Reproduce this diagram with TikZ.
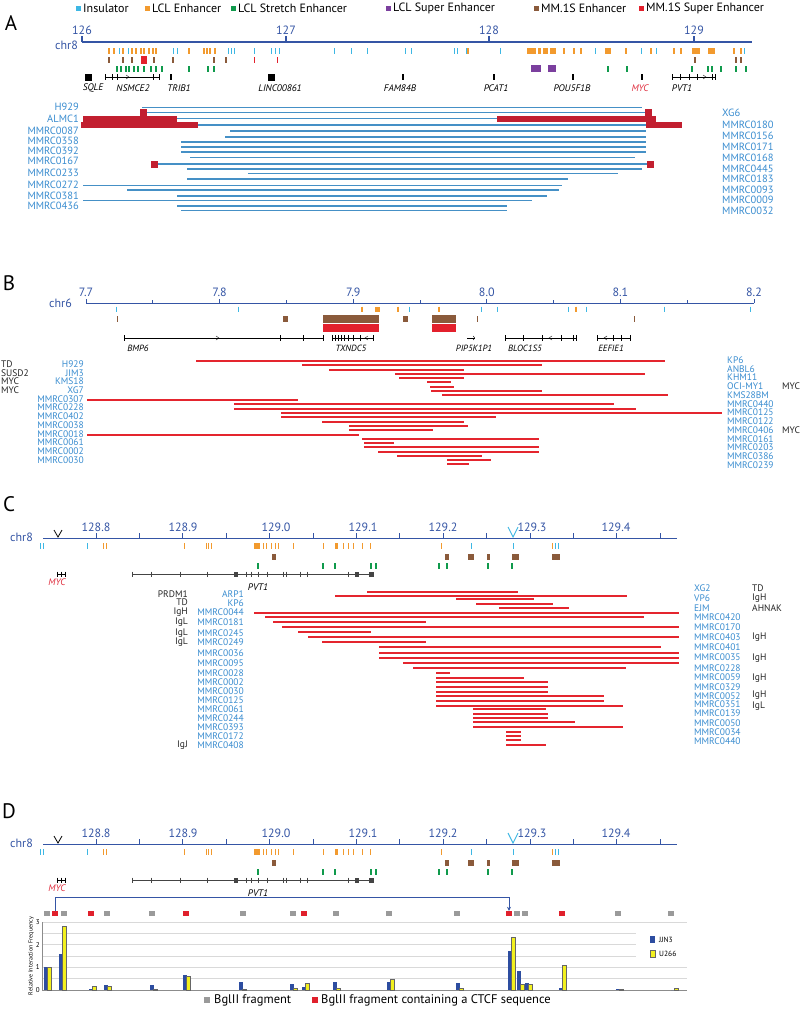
\documentclass[tikz,border=0pt]{standalone}
\usepackage{fontspec}
\setmainfont{PT Sans}
\usetikzlibrary{calc, arrows.meta}

\definecolor{axisblue}{HTML}{3555A5}
\definecolor{samplblue}{HTML}{3A8DD0}
\definecolor{lineblue}{HTML}{4590C6}
\definecolor{darkred}{HTML}{C21F30}
\definecolor{brightred}{HTML}{E4252E}
\definecolor{insul}{HTML}{3DB7E4}
\definecolor{lclenh}{HTML}{F29A2E}
\definecolor{stretch}{HTML}{109A4C}
\definecolor{superenh}{HTML}{7B3F9E}
\definecolor{mmenh}{HTML}{8A5A3B}
\definecolor{mmsuper}{HTML}{E3202C}
\definecolor{mycred}{HTML}{E03040}
\definecolor{barblue}{HTML}{2D4DA0}
\definecolor{baryellow}{HTML}{F2F01E}
\definecolor{fraggray}{HTML}{9A9A9A}
\definecolor{fragred}{HTML}{E0202C}
\definecolor{gridgray}{HTML}{D9D9D9}
\definecolor{pvtgray}{HTML}{444444}

\begin{document}
\begin{tikzpicture}[x=1pt, y=-1pt,
  samp/.style={font=\fontsize{10.5}{10.5}\selectfont, text=samplblue, inner sep=0pt},
  sampsmall/.style={samp, font=\fontsize{9.5}{9.5}\selectfont},
  note/.style={font=\fontsize{10}{10}\selectfont, text=black!85, inner sep=0pt},
  notesmall/.style={note, font=\fontsize{9.5}{9.5}\selectfont},
  ticklab/.style={font=\fontsize{12}{12}\selectfont, text=axisblue, inner sep=0pt},
  gene/.style={font=\fontsize{9.5}{9.5}\selectfont\itshape, inner sep=0pt},
  panel/.style={font=\fontsize{21}{21}\selectfont, inner sep=0pt},
  legtext/.style={font=\fontsize{12}{12}\selectfont, inner sep=0pt, anchor=west},
  axnum/.style={font=\fontsize{7}{7}\selectfont, inner sep=0pt},
  frag/.style={minimum width=6pt, minimum height=5pt, inner sep=0pt, draw=none}
]
\useasboundingbox (0,0) rectangle (800,1009);
\fill[white] (0,0) rectangle (800,1009);

% Legend of the tracks
\foreach \c/\x/\t [count=\i] in {insul/78/Insulator, lclenh/147/LCL Enhancer, stretch/233/LCL Stretch Enhancer, superenh/388/LCL Super Enhancer, mmenh/536/MM.1S Enhancer, mmsuper/641/MM.1S Super Enhancer}{
  \fill[\c] (\x-2.5,6) rectangle (\x+2.5,11);
  \node[legtext] (leg\i) at (\x+5,8.5) {\t};
}

% ---------------- Panel A ----------------
\node[panel] (pA) at (11,23) {A};
\draw[axisblue, line width=1.1pt] (82,42) -- (752,42);
\foreach \x/\l in {82/126, 286/127, 489/128, 694/129}{
  \draw[axisblue, line width=1.1pt] (\x,42) -- (\x,36);
  \node[ticklab] at (\x,30) {\l};
}
\node[ticklab, anchor=east] (chrA) at (78,45) {chr8};

% enhancer and insulator tracks
\foreach \x in {109,114,123,132,136,141,144,149,153,156,189,204,207,210,215,468,564,574,581,626,651,674,681,734,741}
  \draw[lclenh, line width=1.3pt] (\x,48) -- (\x,54);
\foreach \a/\b in {527/536, 538/541, 543/548, 550/556, 605/611, 692/700, 708/715}
  \fill[lclenh] (\a,48) rectangle (\b,54);
\foreach \x in {119,128,173,177,228,231,234,254,271,275,279,334,351,367,405,411,454,457,466,500,595,641,656,744}
  \draw[insul, line width=1pt] (\x,48) -- (\x,54);
\foreach \x in {109,123,132,154,173,214,226,695,736,741}
  \draw[mmenh, line width=1.2pt] (\x,57) -- (\x,63);
\fill[mmsuper] (141,56) rectangle (147,64);
\foreach \x in {254,277}
  \draw[mmsuper, line width=1pt] (\x,57) -- (\x,63);
\foreach \x in {117,121,126,129,134,138,144,151,156,162,189,208,214,608,627,692,708,712,721,736,746}
  \draw[stretch, line width=1.4pt] (\x,66) -- (\x,72);
\fill[superenh] (531,65) rectangle (541,72);
\fill[superenh] (548,65) rectangle (556,72);

% genes
\fill (85,74) rectangle (92,81);
\draw[thick] (105,77) -- (159,77);
\foreach \x in {105,112,117,153,159} \draw[thick] (\x,74) -- (\x,80);
\draw (126,75) -- (129,77) -- (126,79);
\fill (170.3,74) rectangle (171.8,80);
\fill (268,73.5) rectangle (275,81);
\foreach \x in {403,494,573,642} \fill (\x-0.8,74) rectangle (\x+0.8,80);
\draw[thick] (672,77) -- (715,77);
\foreach \x in {672,680,689,697,712,715} \draw[thick] (\x,74) -- (\x,80);
\draw (703,75) -- (706,77) -- (703,79);
\foreach \x/\g in {93/SQLE, 133/NSMCE2, 179/TRIB1, 280/LINC00861, 400/FAM84B, 496/PCAT1, 572/POU5F1B, 682/PVT1}
  \node[gene] at (\x,88) {\g};
\node[gene, text=mycred] (mycA) at (640,88) {MYC};

% breakpoint spans
\foreach \y/\a/\b in {107.3/142/642, 112.3/147/645, 118.7/83/656, 125/81/682, 131/230/646, 137/225/646, 142/181/646, 147/181/646, 152/181/646, 157.7/190/635, 164/158/647, 169/187/642, 173.7/248/618, 179/187/568, 185.3/83/562, 190/127/559, 196/177/547, 200.7/83/532, 206/177/507, 210.7/181/507}
  \draw[lineblue, line width=1.3pt] (\a,\y) -- (\b,\y);
\fill[darkred] (83,116) rectangle (177,121.5);
\fill[darkred] (497,116) rectangle (656,121.5);
\fill[darkred] (81,122.3) rectangle (198,127.5);
\fill[darkred] (646,122.3) rectangle (682,127.5);
\fill[darkred] (140,108.5) rectangle (147,116);
\fill[darkred] (645,108.5) rectangle (652,116);
\fill[darkred] (151,160.5) rectangle (158,167.5);
\fill[darkred] (647,160.5) rectangle (654,167.5);

\foreach \y/\t [count=\i] in {106.7/H929, 119.3/ALMC1, 130.7/MMRC0087, 140.7/MMRC0358, 150.7/MMRC0392, 161.3/MMRC0167, 172.7/MMRC0233, 185.3/MMRC0272, 196/MMRC0381, 206/MMRC0436}
  \node[samp, anchor=east] (aL\i) at (79,\y) {\t};
\foreach \y/\t [count=\i] in {113.3/XG6, 125/MMRC0180, 136.3/MMRC0156, 146.7/MMRC0171, 157.7/MMRC0168, 168.7/MMRC0445, 179/MMRC0183, 190/MMRC0093, 200.3/MMRC0009, 210.7/MMRC0032}
  \node[samp, anchor=west] (aR\i) at (722,\y) {\t};

% ---------------- Panel B ----------------
\node[panel] (pB) at (9,283) {B};
\draw[axisblue, line width=1pt] (86,303) -- (754,303);
\foreach \x/\l in {86/7.7, 219.6/7.8, 353.2/7.9, 486.8/8.0, 620.4/8.1, 754/8.2}{
  \draw[axisblue, line width=1pt] (\x,303) -- (\x,298.5);
  \node[ticklab] at (\x,292) {\l};
}
\foreach \x in {152.8,286.4,420,553.6,687.2}
  \draw[axisblue, line width=1pt] (\x,303) -- (\x,300);
\node[ticklab, anchor=east] (chrB) at (72,303) {chr6};

% enhancer and insulator tracks
\foreach \x in {116,238,409,481,497,568,586,664,750}
  \draw[insul, line width=1pt] (\x,306.5) -- (\x,311.5);
\foreach \x in {362,398,439,576}
  \draw[lclenh, line width=1.6pt] (\x,306.5) -- (\x,311.5);
\fill[lclenh] (375,306.5) rectangle (380,311.5);
\foreach \x in {117,477,634}
  \draw[mmenh, line width=1pt] (\x,316) -- (\x,322);
\fill[mmenh] (283,316) rectangle (288,322);
\fill[mmenh] (403,316) rectangle (408,322);
\fill[mmenh] (323,315) rectangle (379,323);
\fill[mmenh] (432,315) rectangle (456,323);
\fill[mmsuper] (323,324) rectangle (379,332);
\fill[mmsuper] (432,324) rectangle (456,332);

% genes
\draw (124,338) -- (323,338);
\foreach \x in {124,280,303,323} \draw (\x,335) -- (\x,341);
\draw (216,336) -- (219,338) -- (216,340);
\draw (332,338) -- (373,338);
\foreach \x in {332,335,338,341,344,348,353,360,373} \draw (\x,335) -- (\x,341);
\draw (368,336) -- (365,338) -- (368,340);
\draw[-{To[length=2pt]}] (467,338) -- (475,338);
\draw (505,338) -- (576,338);
\foreach \x in {505,523,542,561,573,576} \draw (\x,335) -- (\x,341);
\draw (552,336) -- (549,338) -- (552,340);
\draw (597,338) -- (630,338);
\foreach \x in {597,613,621,630} \draw (\x,335) -- (\x,341);
\draw (607,336) -- (604,338) -- (607,340);
\foreach \x/\g in {138/BMP6, 351/TXNDC5, 474/PIP5K1P1, 525/BLOC1S5, 611/EEFIE1}
  \node[gene, font=\fontsize{9}{9}\selectfont\itshape] at (\x,348) {\g};

% breakpoint spans
\foreach \y/\a/\b in {361/196/665, 365/302/542, 370/329/464, 374/395/645, 378/399/464, 382/427/451, 387/430/454, 391/431/542, 395/442/668, 400/87/298, 404/234/614, 409/234/636, 413/281/722, 417/281/496, 422/322/464, 426/349/468, 430/349/433, 435/87/359, 439/362/539, 443/364/394, 447/364/539, 452/378/539, 456/397/482, 460/447/491, 464/447/469}
  \draw[brightred, line width=1.2pt] (\a,\y) -- (\b,\y);

\foreach \t [count=\i] in {H929, JIM3, KMS18, XG7, MMRC0307, MMRC0228, MMRC0402, MMRC0038, MMRC0018, MMRC0061, MMRC0002, MMRC0030}
  \node[sampsmall, anchor=east] (bL\i) at (84,{364+8.73*(\i-1)}) {\t};
\foreach \t [count=\i] in {TD, SUSD2, MYC, MYC}
  \node[notesmall, anchor=west] (bN\i) at (1,{364+8.73*(\i-1)}) {\t};
\foreach \t [count=\i] in {KP6, ANBL6, KHM11, OCI-MY1, KMS28BM, MMRC0440, MMRC0125, MMRC0122, MMRC0406, MMRC0161, MMRC0203, MMRC0386, MMRC0239}
  \node[sampsmall, anchor=west] (bR\i) at (727,{360+8.75*(\i-1)}) {\t};
\node[notesmall, anchor=west] (bM1) at (782,386.25) {MYC};
\node[notesmall, anchor=west] (bM2) at (782,430) {MYC};

% ---------------- Panels C and D: MYC--PVT1 region ----------------
\node[panel] (pC) at (9,504) {C};
\node[panel] (pD) at (9,811) {D};
\foreach \yo in {0,306}{
\begin{scope}[shift={(0,\yo)}]
  \draw[axisblue, line width=1pt] (43,538) -- (677,538);
  \foreach \k in {0,...,13}
    \draw[axisblue, line width=1pt] ({96+43.4*\k},538) -- ({96+43.4*\k},533);
  \foreach \x/\l in {96/128.8, 183/128.9, 276/129.0, 363/129.1, 443/129.2, 532/129.3, 616/129.4}
    \node[ticklab] at (\x,527) {\l};
  \node[ticklab, anchor=east] at (33,537) {chr8};
  \draw[line width=0.8pt] (54,530) -- (58,537) -- (62,530);
  \draw[insul, line width=0.9pt] (508,527) -- (513,537) -- (518,527);
  % tracks
  \foreach \x in {103,106,184,206,208.5,211,263,266,271,275,278,293,323,343,348,353,362,370,441,552}
    \draw[lclenh, line width=1pt] (\x,543) -- (\x,549);
  \fill[lclenh] (254,543) rectangle (260,549);
  \fill[lclenh] (334.5,543) rectangle (337.5,549);
  \foreach \x in {40,43,87,471,513,555,558}
    \draw[insul, line width=0.9pt] (\x,543) -- (\x,549);
  \foreach \a/\b in {272/276, 445/449, 468/474, 487/490, 512/519, 552/560}
    \fill[mmenh] (\a,554) rectangle (\b,560);
  \foreach \x in {258,323,335,371,376,439,447,488,512}
    \fill[stretch] (\x-1.2,563) rectangle (\x+1.2,569);
  % genes
  \draw (57,574) -- (65,574);
  \foreach \x in {57,61,65} \draw (\x,571.5) -- (\x,576.5);
  \draw[pvtgray] (132,574) -- (372,574);
  \foreach \x in {132,151,180,207,246,251,258,267,283,286,300,307,348}
    \draw[pvtgray] (\x,571.5) -- (\x,576.5);
  \foreach \a/\b in {233.5/238, 355/359, 369/374}
    \fill[pvtgray] (\a,571.5) rectangle (\b,576.5);
  \node[gene, text=mycred] at (57,582) {MYC};
  \node[gene] at (258,587) {PVT1};
\end{scope}
}

% Panel C: breakpoint spans
\foreach \y/\a/\b in {592/367/518, 596/335/627, 599/456/534, 604/476/553, 608/499/569, 613/254/679, 617/265/644, 622/273/426, 627/282/679, 632/298/371, 637/308/679, 642/322/426, 647/379/661, 653/379/679, 658/379/679, 663/403/679, 668/413/626, 673/436/450, 678/436/524, 682/436/548, 687/436/548, 692/436/548, 696/436/604, 701/436/604, 706/436/623, 709/473/546, 714/473/548, 718/473/548, 722/473/575, 727/473/623, 732/506/521, 736/506/521, 740/506/521, 745/506/546}
  \draw[brightred, line width=1.2pt] (\a,\y) -- (\b,\y);

\foreach \y/\t [count=\i] in {594/ARP1, 603/KP6, 612.5/MMRC0044, 622/MMRC0181, 633/MMRC0245, 642/MMRC0249, 653/MMRC0036, 663/MMRC0095, 673/MMRC0028, 682/MMRC0002, 691/MMRC0030, 700/MMRC0125, 709/MMRC0061, 718/MMRC0244, 727/MMRC0393, 736/MMRC0172, 745/MMRC0408}
  \node[sampsmall, anchor=east] (cL\i) at (244,\y) {\t};
\foreach \y/\t [count=\i] in {594/PRDM1, 602.5/TD, 612.5/IgH, 622/IgL, 633/IgL, 642/IgL, 745/IgJ}
  \node[notesmall, anchor=east] (cN\i) at (188,\y) {\t};
\foreach \y/\t [count=\i] in {588/XG2, 598/VP6, 608/EJM, 617/MMRC0420, 627/MMRC0170, 637/MMRC0403, 647/MMRC0401, 657/MMRC0035, 668/MMRC0228, 677/MMRC0059, 687/MMRC0329, 696/MMRC0052, 704.5/MMRC0351, 713.5/MMRC0139, 723/MMRC0050, 732/MMRC0034, 741/MMRC0440}
  \node[sampsmall, anchor=west] (cR\i) at (694,\y) {\t};
\foreach \y/\t [count=\i] in {588/TD, 598/IgH, 608/AHNAK, 637/IgH, 658/IgH, 678/IgH, 695/IgH, 706/IgL}
  \node[notesmall, anchor=west] (cM\i) at (752,\y) {\t};

% Panel D: BglII fragments and 3C interaction
\foreach \x [count=\i] in {47,64,107,152,243,293,336,389,457,517,525,618,671}
  \node[frag, fill=fraggray] (fg\i) at (\x,913.5) {};
\foreach \x [count=\i] in {55,91,186,304,509,562}
  \node[frag, fill=fragred] (fr\i) at (\x,913.5) {};
\draw[axisblue, line width=0.9pt, -{Stealth[length=4pt,width=4pt]}] (fr1.north) -- ++(0,-13) -| (fr5.north);

\foreach \g in {922,933.3,944.7,956,967.3,978.7}
  \draw[gridgray, line width=0.5pt] (42,\g) -- (687,\g);
\draw[black!45, line width=0.6pt] (42,990) -- (687,990);
\draw[black!45, line width=0.6pt] (42,922) -- (42,990);
\foreach \v in {0,1,2,3}
  \node[axnum, anchor=east] at (40,{990-22.67*\v}) {\v};
\node[axnum, font=\fontsize{6}{6}\selectfont, rotate=90] (yaxlab) at (31,956) {Relative Interaction Frequency};

\foreach \x/\hb/\hy in {44/1.0/1.0, 59/1.6/2.8, 89/0.05/0.15, 104/0.22/0.18, 150/0.22/0.03, 183/0.65/0.6, 239/0.35/0.03, 290/0.25/0.1, 302/0.15/0.3, 333/0.35/0.1, 387/0.35/0.5, 456/0.3/0.08, 508/1.7/2.35, 517/0.85/0.25, 525/0.3/0.25, 559/0.1/1.1, 616/0.03/0.06, 671/0.0/0.08}{
  \fill[barblue] (\x,990) rectangle (\x+3.5,{990-22.67*\hb});
  \filldraw[fill=baryellow, draw=black!60, line width=0.3pt] (\x+3.5,990) rectangle (\x+7,{990-22.67*\hy});
}

% chart legend
\fill[white] (636,931) rectangle (692,962);
\fill[barblue] (650,936) rectangle (655,943);
\node[axnum, font=\fontsize{7.5}{7.5}\selectfont, anchor=west] (jjn) at (659,939.5) {JJN3};
\filldraw[fill=baryellow, draw=black!60, line width=0.3pt] (650,950) rectangle (655,957);
\node[axnum, font=\fontsize{7.5}{7.5}\selectfont, anchor=west] (u266) at (659,953.5) {U266};

% fragment legend
\fill[fraggray] (204,997) rectangle (210,1003);
\node[legtext, font=\fontsize{12.5}{12.5}\selectfont] (lgGray) at (214,1000) {BglII fragment};
\fill[fragred] (312,997) rectangle (318,1003);
\node[legtext, font=\fontsize{12.5}{12.5}\selectfont] (lgRed) at (321,1000) {BglII fragment containing a CTCF sequence};
\end{tikzpicture}
\end{document}
